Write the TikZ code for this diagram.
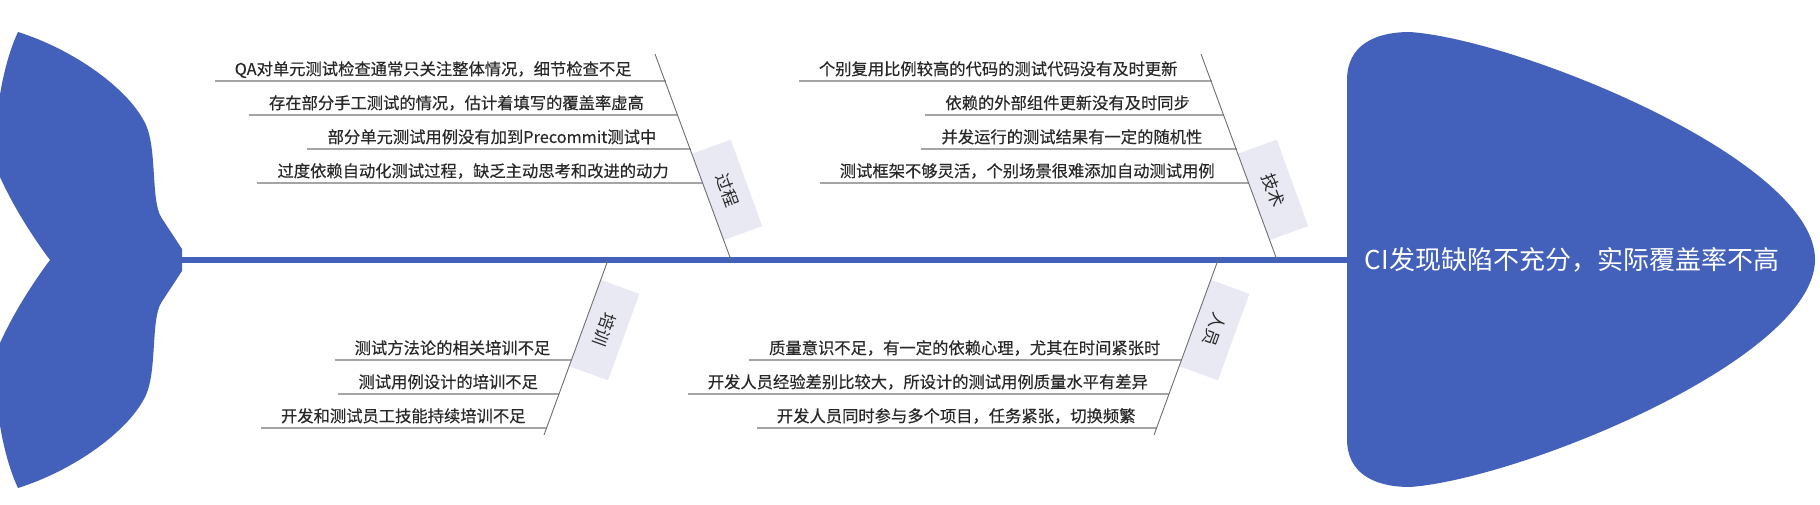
\documentclass[tikz,border=0pt]{standalone}
\usepackage{fontspec}
\newfontfamily\cjk{Noto Sans CJK SC}
\newfontfamily\cjkcause[FakeBold=0.3]{Noto Sans CJK SC}
\usepackage{xcolor}
\usetikzlibrary{positioning,calc}

\definecolor{fishblue}{RGB}{67,97,187}
\definecolor{tagfill}{RGB}{232,233,243}
\definecolor{bonegray}{RGB}{110,110,110}
\definecolor{linegray}{RGB}{165,165,165}
\definecolor{txtgray}{RGB}{40,40,40}

\tikzset{
  cause/.style={font=\cjkcause\fontsize{16.3}{18}\selectfont, text=txtgray, inner xsep=0pt, inner ysep=2pt, anchor=base east},
  uline/.style={linegray, line width=1.6pt},
  bone/.style={bonegray, line width=0.9pt},
  tag/.style={fill=tagfill, font=\cjk\fontsize{17}{19}\selectfont, text=txtgray, minimum width=92pt, minimum height=41pt, inner sep=0pt, anchor=south},
  headtxt/.style={font=\cjk\fontsize{26}{30}\selectfont, text=white}
}

\begin{document}
\begin{tikzpicture}[x=1pt, y=-1pt]
        \useasboundingbox (0,0) rectangle (1820,505);
        \clip (0,0) rectangle (1820,505);

        % Draw tail
        \fill[fishblue] (18,32) .. controls (75,50) and (130,90) .. (146,125)
            .. controls (157,150) and (151,200) .. (161,217) -- (182,249) -- (182,271) -- (161,303)
            .. controls (151,320) and (157,370) .. (146,395)
            .. controls (130,430) and (75,470) .. (18,488)
            .. controls (0,450) and (-10,380) .. (0,343)
            .. controls (15,310) and (35,280) .. (50,260)
            .. controls (35,240) and (15,210) .. (0,177)
            .. controls (-10,140) and (0,70) .. (18,32) -- cycle;

        % Draw head
        \fill[fishblue] (1347,259) -- (1347,80) .. controls (1347,45) and (1375,32) .. (1410,32)
            .. controls (1520,40) and (1815,160) .. (1815,259.5)
            .. controls (1815,359) and (1520,479) .. (1410,487)
            .. controls (1375,487) and (1347,474) .. (1347,439) -- cycle;
        \node[headtxt] (head) at (1572,260) {CI发现缺陷不充分，实际覆盖率不高};

        % Draw spine
        \coordinate (tail) at (182,260);
        \coordinate (neck) at (1347,260);
        \draw[fishblue, line width=6pt] (tail) -- (neck);

        % Process causes
        \coordinate (procA) at (665.7,81);
        \coordinate (procB) at (678.1,115);
        \coordinate (procC) at (690.5,149);
        \coordinate (procD) at (702.9,183);
        \node[cause] (proc1) at (631.7,75) {QA对单元测试检查通常只关注整体情况，细节检查不足};
        \node[cause] (proc2) at (644.1,109) {存在部分手工测试的情况，估计着填写的覆盖率虚高};
        \node[cause] (proc3) at (656.5,143) {部分单元测试用例没有加到Precommit测试中};
        \node[cause] (proc4) at (668.9,177) {过度依赖自动化测试过程，缺乏主动思考和改进的动力};
        \draw[uline] ($(proc1.west |- procA)+(-20,0)$) -- (procA);
        \draw[uline] ($(proc2.west |- procB)+(-20,0)$) -- (procB);
        \draw[uline] ($(proc3.west |- procC)+(-20,0)$) -- (procC);
        \draw[uline] ($(proc4.west |- procD)+(-20,0)$) -- (procD);

        % Technology causes
        \coordinate (techA) at (1211.7,81);
        \coordinate (techB) at (1224.1,115);
        \coordinate (techC) at (1236.5,149);
        \coordinate (techD) at (1248.9,183);
        \node[cause] (tech1) at (1177.7,75) {个别复用比例较高的代码的测试代码没有及时更新};
        \node[cause] (tech2) at (1190.1,109) {依赖的外部组件更新没有及时同步};
        \node[cause] (tech3) at (1202.5,143) {并发运行的测试结果有一定的随机性};
        \node[cause] (tech4) at (1214.9,177) {测试框架不够灵活，个别场景很难添加自动测试用例};
        \draw[uline] ($(tech1.west |- techA)+(-20,0)$) -- (techA);
        \draw[uline] ($(tech2.west |- techB)+(-20,0)$) -- (techB);
        \draw[uline] ($(tech3.west |- techC)+(-20,0)$) -- (techC);
        \draw[uline] ($(tech4.west |- techD)+(-20,0)$) -- (techD);

        % Training causes
        \coordinate (trainA) at (571.5,360);
        \coordinate (trainB) at (559.1,394);
        \coordinate (trainC) at (546.7,428);
        \node[cause] (train1) at (550.5,354) {测试方法论的相关培训不足};
        \node[cause] (train2) at (538.1,388) {测试用例设计的培训不足};
        \node[cause] (train3) at (525.7,422) {开发和测试员工技能持续培训不足};
        \draw[uline] ($(train1.west |- trainA)+(-20,0)$) -- (trainA);
        \draw[uline] ($(train2.west |- trainB)+(-20,0)$) -- (trainB);
        \draw[uline] ($(train3.west |- trainC)+(-20,0)$) -- (trainC);

        % Staff causes
        \coordinate (staffA) at (1181.5,360);
        \coordinate (staffB) at (1169.1,394);
        \coordinate (staffC) at (1156.7,428);
        \node[cause] (staff1) at (1160.5,354) {质量意识不足，有一定的依赖心理，尤其在时间紧张时};
        \node[cause] (staff2) at (1148.1,388) {开发人员经验差别比较大，所设计的测试用例质量水平有差异};
        \node[cause] (staff3) at (1135.7,422) {开发人员同时参与多个项目，任务紧张，切换频繁};
        \draw[uline] ($(staff1.west |- staffA)+(-20,0)$) -- (staffA);
        \draw[uline] ($(staff2.west |- staffB)+(-20,0)$) -- (staffB);
        \draw[uline] ($(staff3.west |- staffC)+(-20,0)$) -- (staffC);

        % Draw bones with their tags
        \coordinate (procTop) at (655,54);
        \coordinate (procEnd) at (731,260);
        \coordinate (techTop) at (1201,54);
        \coordinate (techEnd) at (1277,260);
        \coordinate (trainEnd) at (608,260);
        \coordinate (trainBot) at (544,435);
        \coordinate (staffEnd) at (1218,260);
        \coordinate (staffBot) at (1154,435);
        \node[tag, rotate=-70] (proc) at ($(procTop)!0.694!(procEnd)$) {过程};
        \node[tag, rotate=-70] (tech) at ($(techTop)!0.694!(techEnd)$) {技术};
        \node[tag, rotate=-110] (train) at ($(trainEnd)!0.36!(trainBot)$) {培训};
        \node[tag, rotate=-110] (staff) at ($(staffEnd)!0.36!(staffBot)$) {人员};
        \draw[bone] (procTop) -- (procEnd);
        \draw[bone] (techTop) -- (techEnd);
        \draw[bone] (trainEnd) -- (trainBot);
        \draw[bone] (staffEnd) -- (staffBot);
\end{tikzpicture}
\end{document}
